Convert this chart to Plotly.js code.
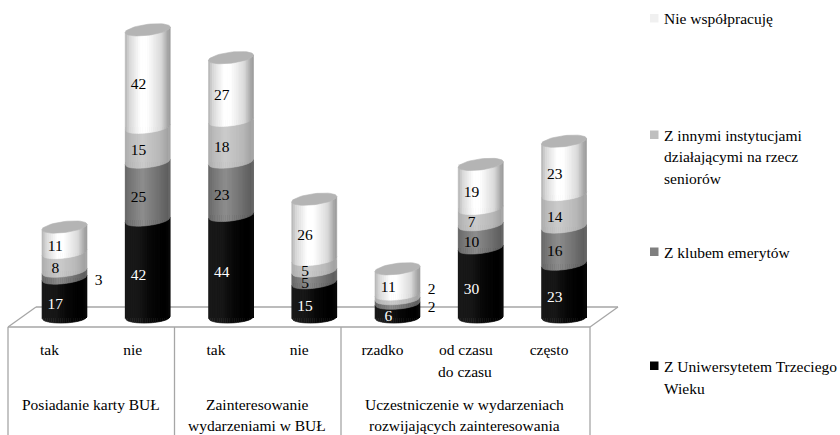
<!DOCTYPE html>
<html><head><meta charset="utf-8">
<script src="https://cdn.plot.ly/plotly-3.0.1.min.js"></script>
<style>html,body{margin:0;padding:0;background:#fff}#c{width:840px;height:435px}</style></head>
<body><div id="c"></div>
<script>
const tickLabels = ['tak','nie','tak','nie','rzadko','od czasu','często'];
const uniwersytet = [17,42,44,15,6,30,23];
const klub = [3,25,23,5,2,10,16];
const inne = [8,15,18,5,2,7,14];
const nieWsp = [11,42,27,26,11,19,23];
const seriesNames = ['Z Uniwersytetem Trzeciego Wieku','Z klubem emerytów','Z innymi instytucjami działającymi na rzecz seniorów','Nie współpracuję'];
const seriesValues = [uniwersytet, klub, inne, nieWsp];
const groupLabels = [['Posiadanie karty BUŁ'],['Zainteresowanie','wydarzeniami w BUŁ'],['Uczestniczenie w wydarzeniach','rozwijających zainteresowania']];
// shade stops [t, grey] across the cylinder width
const shades = [
 [[0,26],[0.3,24],[0.55,8],[0.9,0],[1,10]],
 [[0,104],[0.12,118],[0.38,142],[0.75,112],[0.95,94],[1,106]],
 [[0,172],[0.12,186],[0.38,204],[0.75,186],[0.95,162],[1,168]],
 [[0,178],[0.1,215],[0.34,255],[0.5,255],[0.8,218],[0.95,165],[1,155]]
];
const solid = ['#000000','#7f7f7f','#bfbfbf','#f0f0f0'];
const FONT = '"Liberation Serif", serif', FS = 15.5;
const PL=8, PR=618, PB=327, PXU=83.25, PYU=2.32, X0=64.5, Y0=317.5;
const paperX = p => (p-PL)/(PR-PL), paperY = p => (PB-p)/PB;
const HW=22.5/PXU, EB=5.5/PYU, TILT=2.7/PYU, N=24;
const arc=(u,h,sign)=>{const k=Math.min(1,h/15); return h+(0.35+0.65*k)*TILT*u+sign*EB*Math.sqrt(Math.max(0,1-u*u));};
const shade=(s,t)=>{for(let i=1;i<s.length;i++){if(t<=s[i][0]){const a=s[i-1],b=s[i];const g=Math.round(a[1]+(b[1]-a[1])*(t-a[0])/(b[0]-a[0]));return `rgb(${g},${g},${g})`;}}return 'rgb(0,0,0)';};
const idx=tickLabels.map((_,i)=>i);
const traces=[];
seriesValues.forEach((v,s)=>traces.push({type:'bar',name:seriesNames[s],x:idx,y:v,width:2*HW,marker:{color:solid[s],line:{width:0}},showlegend:false,hoverinfo:'name+y'}));
const cum=seriesValues.map((v,s)=>v.map((_,i)=>seriesValues.slice(0,s).reduce((a,r)=>a+r[i],0)));
seriesValues.forEach((v,s)=>{
  for(let k=0;k<N;k++){
    const xs=[],ys=[];
    const u0=-1+2*k/N,u1=-1+2*(k+1)/N;
    v.forEach((val,i)=>{
      const b=cum[s][i],t=b+val;
      const pts=[[u0,arc(u0,b,-1)],[u1,arc(u1,b,-1)],[u1,arc(u1,t,-1)],[u0,arc(u0,t,-1)],[u0,arc(u0,b,-1)]];
      pts.forEach(p=>{xs.push(i+p[0]*HW);ys.push(p[1]);});
      xs.push(null);ys.push(null);
    });
    const c=shade(shades[s],(k+0.5)/N);
    traces.push({type:'scatter',mode:'lines',x:xs,y:ys,fill:'toself',fillcolor:c,line:{color:c,width:0.6},showlegend:false,hoverinfo:'skip'});
  }
});
// top caps
(()=>{const xs=[],ys=[];idx.forEach(i=>{const top=seriesValues.reduce((a,r)=>a+r[i],0);
  for(let a=0;a<=48;a++){const th=2*Math.PI*a/48,u=Math.cos(th);xs.push(i+u*HW);ys.push(top+TILT*u+EB*Math.sin(th));}
  xs.push(null);ys.push(null);});
  traces.push({type:'scatter',mode:'lines',x:xs,y:ys,fill:'toself',fillcolor:'#b4b4b4',line:{color:'#b4b4b4',width:0.6},showlegend:false,hoverinfo:'skip'});})();
// value labels
seriesValues.forEach((v,s)=>{
  const xs=[],ys=[],tx=[];
  v.forEach((val,i)=>{
    const out=val<=3, prevOut=s>0&&seriesValues[s-1][i]<=3;
    xs.push(i+(out?0.41:-0.11));
    ys.push(cum[s][i]+val/2-3+(out&&prevOut?6:0));
    tx.push(String(val));
  });
  traces.push({type:'scatter',mode:'text',x:xs,y:ys,text:tx,textposition:'middle center',
    textfont:{family:FONT,size:FS,color:seriesValues[s].map(val=>(s===0&&val>3)?'#ffffff':'#000000')},showlegend:false,hoverinfo:'skip',cliponaxis:false});
});
const line={color:'#a6a6a6',width:1.3};
const seg=(x0,y0,x1,y1)=>({type:'line',xref:'paper',yref:'paper',x0:paperX(x0),y0:paperY(y0),x1:paperX(x1),y1:paperY(y1),line,layer:'below'});
const shapes=[seg(36,307,618,307),seg(8,327,590,327),seg(8,327,36,307),seg(590,327,618,307),
  seg(8,327,8,435),seg(174.5,327,174.5,435),seg(341,327,341,435),seg(590,327,590,435)];
const ann=(t,x,y,anchor='center')=>({text:t,xref:'paper',yref:'paper',x:paperX(x),y:paperY(y),xanchor:anchor,yanchor:'middle',showarrow:false,align:anchor,font:{family:FONT,size:FS,color:'#000'},borderpad:0});
const annotations=[ann('do czasu',465,371)];
const groupX=[91,257,464];
groupLabels.forEach((g,i)=>g.forEach((t,j)=>annotations.push(ann(t,groupX[i],404+j*21.7))));
const legendRows=[[3,[18.5]],[2,[135,156.5,178]],[1,[252]],[0,[366,388]]];
const legendLines={3:['Nie współpracuję'],2:['Z innymi instytucjami','działającymi na rzecz','seniorów'],1:['Z klubem emerytów'],0:['Z Uniwersytetem Trzeciego','Wieku']};
legendRows.forEach(([s,ys])=>{
  ys.forEach((y,j)=>annotations.push(ann(legendLines[s][j],663,y,'left')));
  shapes.push({type:'rect',xref:'paper',yref:'paper',x0:paperX(650),x1:paperX(658.5),y0:paperY(ys[0]-4.5),y1:paperY(ys[0]+4),fillcolor:solid[s],line:{width:0}});
});
Plotly.newPlot('c',traces,{
  width:840,height:435,margin:{l:PL,r:840-PR,t:0,b:435-PB,pad:0},
  paper_bgcolor:'#fff',plot_bgcolor:'rgba(0,0,0,0)',barmode:'stack',bargap:0,
  xaxis:{type:'linear',range:[(PL-X0)/PXU,(PR-X0)/PXU],showgrid:false,zeroline:false,showline:false,ticks:'',
    tickmode:'array',tickvals:idx.map(i=>i-0.18),ticktext:tickLabels,ticklabelstandoff:11,tickfont:{family:FONT,size:FS,color:'#000'},fixedrange:true},
  yaxis:{range:[-(PB-Y0)/PYU,Y0/PYU],visible:false,fixedrange:true},
  shapes,annotations,showlegend:false,hovermode:'closest'
},{displayModeBar:false,staticPlot:true});
</script></body></html>
